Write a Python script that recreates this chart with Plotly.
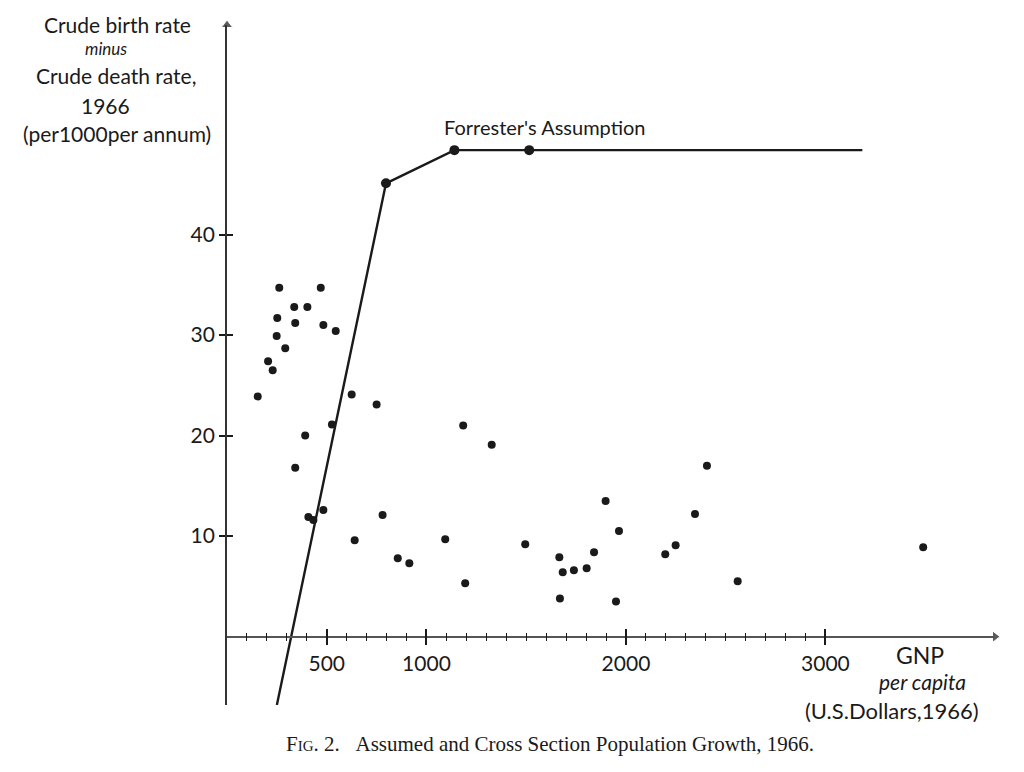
import plotly.graph_objects as go

# cross-section countries: GNP per capita (US$ 1966) vs birth minus death rate
gnp = [262, 470, 337, 403, 252, 342, 483, 545, 249, 292, 206, 229, 154, 625, 750,
       526, 392, 1184, 342, 408, 433, 483, 780, 640, 856, 914, 1094, 1194, 1327,
       1495, 1666, 1683, 1739, 1803, 1840, 1898, 1965, 1669, 1950, 2197, 2249,
       2346, 2406, 2560, 3490]
growth = [34.7, 34.7, 32.8, 32.8, 31.7, 31.2, 31.0, 30.4, 29.9, 28.7, 27.4, 26.5,
          23.9, 24.1, 23.1, 21.1, 20.0, 21.0, 16.8, 11.9, 11.6, 12.6, 12.1, 9.6,
          7.8, 7.3, 9.7, 5.3, 19.1, 9.2, 7.9, 6.4, 6.6, 6.8, 8.4, 13.5, 10.5, 3.8,
          3.5, 8.2, 9.1, 12.2, 17.0, 5.5, 8.9]

# Forrester's assumed relation
forr_x = [250, 797, 1140, 1515, 3185]
forr_y = [-6.8, 45.1, 48.4, 48.4, 48.4]
forr_dots = [1, 2, 3]

x_ticks = [500, 1000, 2000, 3000]
x_labels = ["500", "1000", "2000", "3000"]
x_minor = [v for v in range(100, 3000, 100) if v not in x_ticks]
y_ticks = [10, 20, 30, 40]

X_RANGE = [0, 3850]
Y_RANGE = [-6.8, 60.85]

# page body has an 8px margin, so the figure sits at (8, 8)
OFF = 8
W, H = 1024, 772
ML, MT = 227 - OFF, 25 - OFF
MR, MB = W - (995 - OFF), H - (705 - OFF)
PW, PH = W - ML - MR, H - MT - MB
FONT = "Lato"
INK = "#1a1a1a"


def px(x):
    return (x - OFF - ML) / PW


def py(y):
    return (H - MB - (y - OFF)) / PH


xpos = (0 - Y_RANGE[0]) / (Y_RANGE[1] - Y_RANGE[0])

fig = go.Figure()

fig.add_trace(go.Scatter(
    x=gnp, y=growth, mode="markers",
    marker=dict(size=8, color=INK),
    hoverinfo="x+y", showlegend=False,
))

fig.add_trace(go.Scatter(
    x=forr_x, y=forr_y, mode="lines",
    line=dict(color=INK, width=2.4),
    hoverinfo="skip", showlegend=False,
))
fig.add_trace(go.Scatter(
    x=[forr_x[i] for i in forr_dots], y=[forr_y[i] for i in forr_dots],
    mode="markers", marker=dict(size=10, color=INK),
    hoverinfo="x+y", showlegend=False,
))

# arrow heads at the axis ends
fig.add_trace(go.Scatter(
    x=[X_RANGE[1], 0], y=[0, Y_RANGE[1]], mode="markers",
    marker=dict(symbol=["triangle-right", "triangle-up"], size=[10, 10], color=INK),
    cliponaxis=False, hoverinfo="skip", showlegend=False,
))

# overlay axes carry the upper/right half of the ticks
fig.add_trace(go.Scatter(x=[None], y=[None], xaxis="x2", yaxis="y2",
                         hoverinfo="skip", showlegend=False))

tickfont = dict(family=FONT, size=21, color=INK)
fig.update_layout(
    width=W, height=H,
    margin=dict(l=ML, r=MR, t=MT, b=MB),
    paper_bgcolor="white", plot_bgcolor="white",
    xaxis=dict(range=X_RANGE, anchor="free", position=xpos,
               showline=True, linecolor="#555", linewidth=1.5,
               showgrid=False, zeroline=False,
               tickmode="array", tickvals=x_ticks, ticktext=x_labels,
               ticks="outside", ticklen=8, tickwidth=1.5, tickcolor=INK,
               tickfont=tickfont,
               minor=dict(tickmode="array", tickvals=x_minor, ticks="outside",
                          ticklen=4, tickwidth=1.2, tickcolor=INK, showgrid=False)),
    xaxis2=dict(range=X_RANGE, overlaying="x", anchor="free", position=xpos,
                showline=False, showgrid=False, zeroline=False,
                tickmode="array", tickvals=x_ticks, showticklabels=False,
                ticks="inside", ticklen=8, tickwidth=1.5, tickcolor=INK,
                minor=dict(tickmode="array", tickvals=x_minor, ticks="inside",
                           ticklen=4, tickwidth=1.2, tickcolor=INK, showgrid=False)),
    yaxis=dict(range=Y_RANGE, showline=True, linecolor="#333", linewidth=1.8,
               showgrid=False, zeroline=False,
               tickmode="array", tickvals=y_ticks,
               ticks="outside", ticklen=6, tickwidth=1.5, tickcolor=INK,
               tickfont=tickfont),
    yaxis2=dict(range=Y_RANGE, overlaying="y", anchor="x2",
                showline=False, showgrid=False, zeroline=False,
                tickmode="array", tickvals=y_ticks, showticklabels=False,
                ticks="inside", ticklen=6, tickwidth=1.5, tickcolor=INK),
)

texts = [
    ("Crude birth rate", 117, 24, 21, False),
    ("minus", 106, 49, 17, True),
    ("Crude death rate,", 116, 76, 21, False),
    ("1966", 105, 105, 21, False),
    ("(per1000per annum)", 117, 134, 21, False),
    ("Forrester's Assumption", 545, 127, 20, False),
    ("GNP", 920, 655, 23, False),
    ("per capita", 922, 681, 21, True),
    ("(U.S.Dollars,1966)", 892, 710, 22, False),
]
for t, x, y, s, it in texts:
    fig.add_annotation(
        text=f"<i>{t}</i>" if it else t, xref="paper", yref="paper",
        x=px(x), y=py(y), xanchor="center", yanchor="middle",
        showarrow=False, font=dict(family=FONT, size=s, color=INK),
    )

fig.add_annotation(
    text="F<span style='font-size:15px'>IG</span>. 2.&nbsp;&nbsp;&nbsp;Assumed and Cross Section Population Growth, 1966.",
    xref="paper", yref="paper", x=px(550), y=py(744),
    xanchor="center", yanchor="middle", showarrow=False,
    font=dict(family="Liberation Serif", size=21, color=INK),
)

fig.write_html("out.html")
